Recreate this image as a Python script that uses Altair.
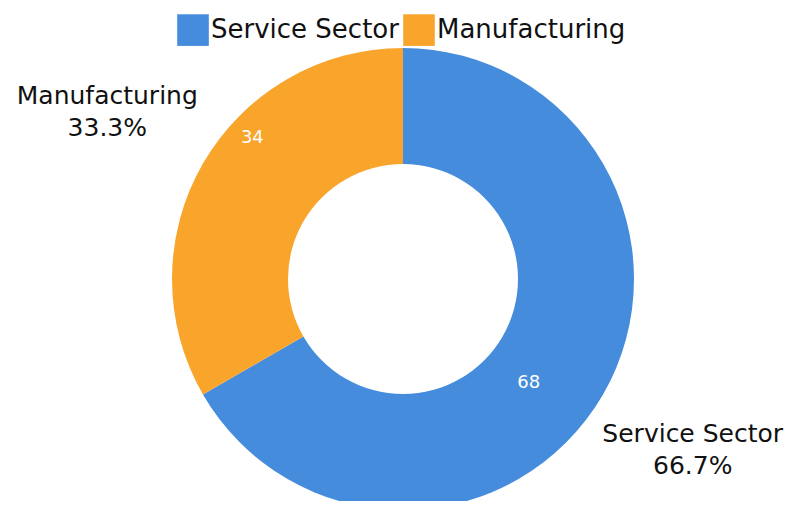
import altair as alt
import pandas as pd

categories = ["Service Sector", "Manufacturing"]
values = [68, 34]
percent_labels = ["66.7%", "33.3%"]
colors = ["#468CDC", "#F9A52B"]
order = [0, 1]

df = pd.DataFrame({
    "category": categories,
    "value": values,
    "pct": percent_labels,
    "order": order,
})

CX, CY = 395, 271
FONT = "DejaVu Sans"

base = alt.Chart(df).encode(
    theta=alt.Theta("value:Q", stack=True),
    order=alt.Order("order:Q"),
    x=alt.value(CX),
    y=alt.value(CY),
)

arc = base.mark_arc(outerRadius=231, innerRadius=115, stroke=None).encode(
    color=alt.Color(
        "category:N",
        scale=alt.Scale(domain=categories, range=colors),
        sort=categories,
        legend=alt.Legend(
            title=None,
            orient="none",
            direction="horizontal",
            legendX=169,
            legendY=6,
            padding=0,
            symbolType="square",
            symbolSize=1000,
            symbolStrokeWidth=0,
            symbolOpacity=1,
            labelFontSize=26,
            labelFont=FONT,
            labelColor="#111111",
            labelOffset=2,
            columnPadding=4,
            labelLimit=400,
        ),
    )
)

outer = base.transform_calculate(
    label="datum.category + '\\n' + datum.pct"
).mark_text(
    radius=338, dy=-14, dx=-3, font=FONT, fontSize=25, color="#111111",
    lineBreak="\n", lineHeight=32, align="center", baseline="middle",
).encode(text="label:N")

inner_m = base.mark_text(
    radius=206, thetaOffset=0.227, font=FONT, fontSize=18, color="white",
    align="center", baseline="middle",
).encode(text=alt.condition("datum.category == 'Manufacturing'", "value:Q", alt.value("")))

inner_s = base.mark_text(
    radius=163, thetaOffset=0.166, font=FONT, fontSize=18, color="white",
    align="center", baseline="middle",
).encode(text=alt.condition("datum.category == 'Service Sector'", "value:Q", alt.value("")))

chart = alt.layer(arc, outer, inner_m, inner_s).properties(
    width=777, height=493, autosize=alt.AutoSizeParams(type="none"), padding=0
).configure_view(stroke=None)

chart.save("out.html", embed_options={"renderer": "svg", "actions": False})
